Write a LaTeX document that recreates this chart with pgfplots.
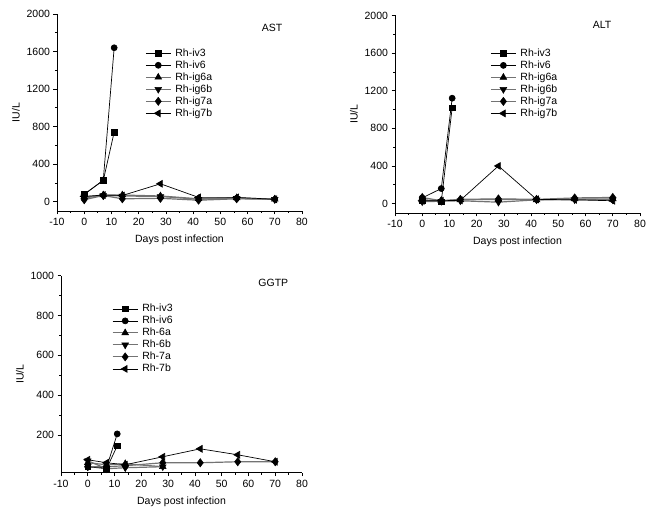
\documentclass[border=0pt]{standalone}
\usepackage{pgfplots}
\pgfplotsset{compat=1.18}
\usepackage{fontspec}
\setmainfont{Liberation Sans}

\newcommand{\fs}{\fontsize{10.5}{12}\selectfont}

\pgfplotsset{
  panel/.style={
    scale only axis,
    anchor=south west,
    xmin=-10, xmax=80,
    xtick={-10,0,...,80},
    minor x tick num=1,
    minor y tick num=1,
    axis x line*=bottom,
    axis y line*=left,
    tick align=outside,
    major tick length=3.5pt,
    minor tick length=2pt,
    tick style={black, line width=0.7pt},
    axis line style={line width=0.8pt},
    /pgf/number format/assume math mode=true,
    /pgf/number format/set thousands separator={},
    ticklabel style={font=\fs},
    label style={font=\fs},
    xlabel={Days post infection},
    ylabel={IU/L},
    xlabel style={yshift=-3pt},
    ylabel style={yshift=0pt},
    legend cell align=left,
    legend style={draw=none, fill=none, font=\fs, anchor=north west,
      row sep=-1.1pt, inner sep=1pt, nodes={inner xsep=4pt}},
    legend image code/.code={
      \draw[mark repeat=2,mark phase=2]
      plot coordinates {(0pt,0pt)(12.5pt,0pt)(25pt,0pt)};
    },
  },
  s1/.style={black, line width=0.7pt, mark=square*, mark size=2.7pt, mark options={solid, fill=black}},
  s2/.style={black, line width=0.7pt, mark=*, mark size=3pt, mark options={solid, fill=black}},
  s3/.style={black!55, line width=1.2pt, mark=triangle*, mark size=3.9pt, mark options={solid, fill=black, draw=black, line width=0.5pt}},
  s4/.style={black!55, line width=1.2pt, mark=triangle*, mark size=3.9pt, mark options={solid, fill=black, draw=black, line width=0.5pt, rotate=180}},
  s5/.style={black!55, line width=1.2pt, mark=diamond*, mark size=4.1pt, mark options={solid, fill=black, draw=black, line width=0.5pt}},
  s6/.style={black, line width=0.7pt, mark=triangle*, mark size=3.9pt, mark options={solid, fill=black, rotate=90}},
}

\begin{document}
\begin{tikzpicture}
\useasboundingbox (0pt,0pt) rectangle (653pt,516pt);

% AST
\begin{axis}[panel,
  at={(57pt,305pt)}, width=245pt, height=197pt,
  ymin=-100, ymax=2000,
  ytick={0,400,...,2000},
  legend style={at={(0.355,0.840)}},
]
\addplot[s1] coordinates {(0,80)(7,225)(11,740)};
\addplot[s2] coordinates {(0,75)(7,230)(11,1640)};
\addplot[s3] coordinates {(0,50)(7,70)(14,70)(28,60)(42,30)(56,40)(70,25)};
\addplot[s4] coordinates {(0,40)(7,65)(14,60)(28,55)(42,25)(56,35)(70,25)};
\addplot[s5] coordinates {(0,20)(7,65)(14,30)(28,35)(42,15)(56,30)(70,25)};
\addplot[s6] coordinates {(0,55)(7,70)(14,65)(28,190)(42,45)(56,45)(70,25)};
\legend{Rh-iv3,Rh-iv6,Rh-ig6a,Rh-ig6b,Rh-ig7a,Rh-ig7b}
\node[font=\fs] at (rel axis cs:0.878,0.927) {AST};
\end{axis}

% ALT
\begin{axis}[panel,
  at={(395pt,303pt)}, width=245pt, height=197.6pt,
  ymin=-100, ymax=2000,
  ytick={0,400,...,2000},
  legend style={at={(0.384,0.847)}},
]
\addplot[s1] coordinates {(0,30)(7,20)(11,1020)};
\addplot[s2] coordinates {(0,60)(7,160)(11,1120)};
\addplot[s3] coordinates {(0,40)(7,30)(14,40)(28,45)(42,40)(56,50)(70,50)};
\addplot[s4] coordinates {(0,20)(7,25)(14,30)(28,15)(42,40)(56,40)(70,40)};
\addplot[s5] coordinates {(0,65)(7,30)(14,45)(28,50)(42,45)(56,60)(70,65)};
\addplot[s6] coordinates {(0,30)(7,30)(14,35)(28,400)(42,45)(56,40)(70,30)};
\legend{Rh-iv3,Rh-iv6,Rh-ig6a,Rh-ig6b,Rh-ig7a,Rh-ig7b}
\node[font=\fs] at (rel axis cs:0.845,0.953) {ALT};
\end{axis}

% GGTP
\begin{axis}[panel,
  at={(61pt,43.3pt)}, width=241pt, height=197pt,
  ymin=10, ymax=1000,
  ytick={200,400,...,1000},
  legend style={at={(0.207,0.871)}},
]
\addplot[s1] coordinates {(0,40)(7,30)(11,145)};
\addplot[s2] coordinates {(0,40)(7,35)(11,205)};
\addplot[s3] coordinates {(0,60)(7,50)(14,55)(28,40)};
\addplot[s4] coordinates {(0,70)(7,30)(14,35)(28,40)};
\addplot[s5] coordinates {(0,40)(7,40)(14,45)(28,60)(42,60)(56,65)(70,65)};
\addplot[s6] coordinates {(0,75)(7,60)(14,50)(28,90)(42,130)(56,100)(70,65)};
\legend{Rh-iv3,Rh-iv6,Rh-6a,Rh-6b,Rh-7a,Rh-7b}
\node[font=\fs] at (rel axis cs:0.881,0.961) {GGTP};
\end{axis}
\end{tikzpicture}
\end{document}
